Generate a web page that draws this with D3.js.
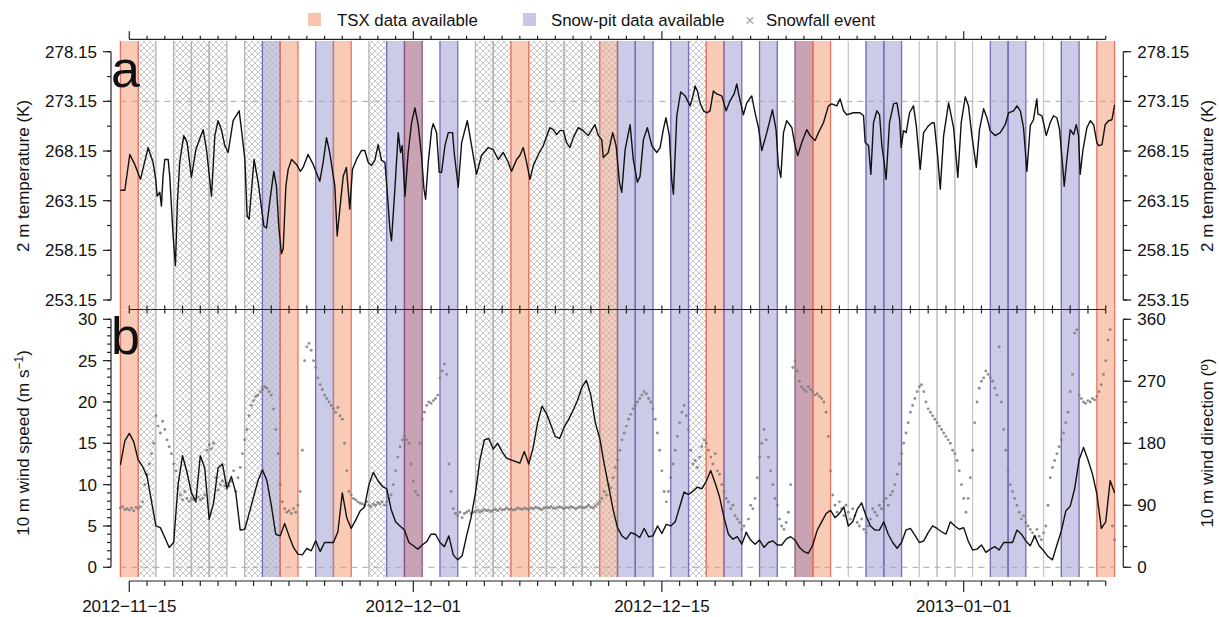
<!DOCTYPE html>
<html><head><meta charset="utf-8">
<script src="https://cdn.jsdelivr.net/npm/d3@7"></script>
<style>
body{margin:0;background:#fff}
text{font-family:"Liberation Sans",Arial,Helvetica,sans-serif;fill:#111}
</style>
</head><body>
<svg id="chart" width="1219" height="617"></svg>
<script>
// ---------------- DATA ----------------
const tsxDays   = ["2012-11-15","2012-11-24","2012-11-27","2012-12-01","2012-12-07","2012-12-12","2012-12-18","2012-12-23","2012-12-24","2013-01-09"];
const pitDays   = ["2012-11-23","2012-11-26","2012-11-30","2012-12-01","2012-12-03","2012-12-13","2012-12-14","2012-12-16","2012-12-19","2012-12-21","2012-12-23","2012-12-27","2012-12-28","2013-01-03","2013-01-04","2013-01-07"];
const snowDays  = ["2012-11-16","2012-11-18","2012-11-19","2012-11-20","2012-11-22","2012-11-23","2012-11-29","2012-12-05","2012-12-06","2012-12-08","2012-12-09","2012-12-10","2012-12-11","2012-12-12","2012-12-17"];
const lightSnowDays = ["2012-12-26","2012-12-30","2012-12-31","2013-01-01","2013-01-06"];

const dateTicks = ["2012-11-15","2012-12-01","2012-12-15","2013-01-01"];
const tempTicks = [253.15,258.15,263.15,268.15,273.15,278.15];
const speedTicks = [0,5,10,15,20,25,30];
const dirTicks = [0,90,180,270,360];

// 2 m temperature: [days since 2012-11-15 00:00 UTC, K]
const temperature = [
[-0.5,264.2],[-0.25,264.2],[0.03,267.8],[0.31,266.8],[0.63,265.3],[1.06,268.5],[1.34,267.0],[1.49,265.3],[1.57,263.6],[1.72,264.0],[1.81,262.6],[1.90,265.6],[2.00,267.3],[2.19,267.3],[2.28,265.6],[2.47,259.6],[2.60,256.6],[2.71,263.0],[2.84,267.0],[3.07,269.7],[3.26,269.0],[3.50,265.5],[3.75,268.3],[4.16,270.3],[4.35,268.3],[4.63,263.6],[4.82,269.7],[5.00,271.2],[5.19,270.3],[5.38,268.7],[5.57,268.0],[5.85,271.2],[6.19,272.2],[6.32,270.3],[6.51,267.3],[6.64,261.6],[6.75,261.3],[7.03,267.3],[7.26,265.0],[7.58,260.6],[7.73,260.4],[7.91,263.0],[8.14,266.1],[8.29,264.6],[8.42,260.6],[8.57,257.8],[8.67,258.3],[8.82,264.6],[8.95,266.3],[9.14,267.3],[9.42,266.8],[9.64,266.1],[9.79,266.5],[10.07,267.8],[10.36,266.8],[10.73,265.1],[10.92,267.0],[11.11,269.5],[11.29,268.0],[11.45,266.1],[11.58,264.6],[11.71,259.6],[11.86,262.3],[12.05,265.6],[12.23,266.5],[12.42,262.3],[12.57,266.3],[12.80,267.3],[13.08,268.2],
[13.27,268.2],[13.46,267.0],[13.65,266.7],[13.83,267.2],[14.02,268.8],[14.21,267.2],[14.40,267.0],[14.49,265.0],[14.68,260.3],[14.77,259.1],[14.96,264.3],[15.15,270.0],[15.28,268.0],[15.37,268.7],[15.53,263.6],[15.71,268.0],[15.90,271.0],[16.09,272.5],[16.28,270.7],[16.46,267.7],[16.60,264.3],[16.69,263.3],[16.84,267.0],[17.03,270.3],[17.12,270.9],[17.31,270.0],[17.46,266.0],[17.59,266.0],[17.78,268.7],[17.97,270.0],[18.21,270.0],[18.30,268.0],[18.53,264.5],[18.72,269.0],[19.04,271.2],[19.28,268.7],[19.56,265.8],[19.84,267.7],[20.22,268.5],[20.50,268.3],[20.78,267.3],[21.07,268.0],[21.35,267.0],[21.53,266.1],[21.82,267.3],[22.00,267.7],[22.19,268.5],[22.38,267.0],[22.57,265.3],[22.76,266.7],[23.04,267.8],[23.32,268.7],[23.69,270.5],[23.88,270.3],[24.07,269.8],[24.26,270.2],[24.45,270.2],[24.63,269.0],[24.82,268.5],[25.01,269.5],[25.29,270.5],[25.57,270.2],[25.85,269.7],[26.23,270.8],[26.42,269.7],[26.61,269.3],[26.70,267.5],[26.98,268.0],
[27.23,270.0],[27.42,268.7],[27.61,265.0],[27.74,264.0],[27.93,268.3],[28.21,270.8],[28.39,267.3],[28.62,265.0],[28.77,265.6],[28.96,269.3],[29.18,270.5],[29.43,268.7],[29.71,268.0],[29.90,268.5],[30.08,270.3],[30.23,271.5],[30.42,269.7],[30.55,265.3],[30.65,263.8],[30.84,271.7],[31.06,274.1],[31.31,273.7],[31.59,272.7],[31.78,273.9],[31.87,274.7],[32.00,274.2],[32.15,273.0],[32.34,272.2],[32.53,272.0],[32.71,272.2],[32.90,274.2],[33.09,273.9],[33.37,273.7],[33.62,272.2],[33.84,273.2],[34.07,273.9],[34.22,274.9],[34.31,274.0],[34.59,271.8],[34.78,273.0],[35.06,273.7],[35.25,272.0],[35.44,270.5],[35.63,268.2],[35.91,270.0],[36.23,272.3],[36.43,270.3],[36.56,266.7],[36.70,265.5],[36.85,270.0],[37.03,271.2],[37.32,270.5],[37.50,268.7],[37.65,267.7],[37.88,269.0],[38.16,270.3],[38.35,269.7],[38.63,269.2],[38.82,270.0],[39.10,271.0],[39.38,272.7],[39.57,272.9],[39.85,272.7],[40.04,273.4],[40.23,272.2],[40.41,271.8],[40.79,272.0],[41.16,272.0],
[41.36,271.7],[41.45,269.0],[41.64,268.7],[41.77,265.8],[41.92,271.0],[42.11,272.2],[42.26,271.8],[42.39,268.7],[42.52,267.0],[42.63,265.3],[42.82,271.0],[43.05,272.9],[43.24,273.0],[43.39,271.3],[43.48,268.5],[43.61,270.2],[43.76,270.0],[43.95,272.0],[44.17,272.7],[44.33,270.7],[44.55,266.3],[44.74,270.0],[45.02,270.7],[45.21,271.0],[45.34,271.0],[45.53,267.7],[45.68,264.3],[45.87,269.7],[46.15,273.0],[46.43,270.5],[46.67,265.5],[46.86,271.0],[47.09,273.6],[47.27,272.7],[47.46,269.7],[47.71,266.5],[47.89,270.3],[48.12,272.4],[48.31,271.5],[48.49,270.2],[48.78,269.7],[49.06,270.0],[49.34,270.8],[49.53,272.0],[49.81,272.2],[50.00,272.7],[50.19,272.2],[50.37,270.5],[50.56,266.1],[50.75,270.7],[50.93,271.3],[51.12,273.4],[51.18,271.9],[51.41,271.7],[51.65,269.7],[51.87,271.0],[52.06,271.7],[52.25,271.5],[52.40,270.3],[52.59,266.3],[52.66,264.6],[52.81,267.3],[53.00,270.3],[53.19,269.8],[53.34,270.8],[53.47,269.7],[53.56,265.8],[53.72,268.3],[53.94,270.5],[54.13,271.2],[54.32,270.8],[54.50,269.0],[54.60,268.7],[54.79,268.8],[54.97,270.8],[55.16,271.2],[55.35,271.3],[55.50,272.8]
];

// 10 m wind speed, every 6 h starting 2012-11-14 12:00 UTC (m/s)
const windStart = "2012-11-14T12:00:00Z";
const speedStepHours = 6;
const windSpeed = [
12.4,15.3,16.2,15.2,13.0,12.2,11.0,8.0,5.0,4.8,3.6,2.4,3.0,10.0,13.5,11.5,9.0,8.0,13.5,12.0,
5.8,7.8,12.0,12.5,9.5,11.0,9.0,4.5,4.6,6.5,8.5,10.5,11.8,10.5,7.5,4.0,3.8,5.3,3.8,2.4,
1.6,1.5,2.3,2.0,3.2,1.9,3.0,3.0,3.0,4.3,9.0,6.0,4.7,5.7,6.8,7.3,10.0,11.5,10.5,9.8,
9.5,7.0,5.5,5.0,4.5,3.0,2.6,2.2,2.7,3.1,4.0,4.0,3.0,2.5,3.8,1.5,0.9,1.4,3.8,6.0,
9.0,13.0,15.4,15.6,14.3,15.0,14.0,13.2,13.0,12.8,12.6,14.0,12.5,14.5,17.5,19.5,18.6,17.2,15.8,15.6,
17.0,17.9,19.0,20.2,21.8,22.6,20.8,17.5,15.6,12.5,9.8,7.0,4.8,3.8,3.4,4.2,4.0,3.6,4.7,3.7,
3.8,5.0,4.1,5.2,5.0,5.5,7.3,9.1,8.8,9.2,9.7,9.5,10.4,11.7,10.2,8.5,6.0,4.0,3.4,3.7,
2.8,4.2,3.3,2.8,3.3,2.4,3.0,3.2,2.7,2.7,3.4,3.7,3.3,2.4,1.9,1.7,2.7,4.5,5.5,6.5,
6.9,6.0,6.5,7.3,5.0,5.5,7.0,7.8,6.2,5.0,4.5,4.5,5.5,4.0,3.0,2.3,3.0,4.5,4.7,3.9,
3.0,3.2,4.2,5.0,4.7,4.3,4.0,5.5,5.0,4.6,4.8,3.2,2.1,2.2,2.7,1.8,2.2,2.5,2.1,3.0,
3.0,3.0,4.5,4.0,3.2,2.6,3.8,2.6,2.0,1.3,0.9,2.7,4.4,6.8,7.4,9.5,13.0,14.5,13.0,11.3,
8.9,4.7,5.5,10.5,9.0
];
// 10 m wind direction, every 3 h starting 2012-11-14 12:00 UTC (degrees)
const dirStepHours = 3;
const windDir = [
86,88,84,85,83,86,82,87, 85,88,95,120,135,150,165,180,
220,205,195,212,200,185,175,165, 150,140,115,105,98,110,100,96,
100,98,95,102,98,100,105,170, 178,172,180,130,112,120,125,118,
122,118,125,140,110,130,145,165, 185,200,220,235,242,248,250,255,
258,262,260,255,250,230,200,165, 120,95,85,80,82,78,85,80,
90,110,170,300,320,325,315,300, 290,275,265,258,250,245,240,235,
230,225,232,220,215,180,140,110, 105,100,98,95,93,92,90,95,
90,88,92,90,94,92,95,90, 95,100,105,120,140,160,175,185,
190,185,180,150,125,110,105,180, 215,225,235,240,238,242,245,250,
275,285,295,280,150,110,85,78, 75,80,72,78,80,82,78,80,
81,83,80,82,84,82,83,81, 83,84,82,85,83,84,86,84,
85,83,84,86,85,84,86,85, 84,86,85,87,86,85,84,86,
87,86,88,86,85,87,88,86, 85,87,86,88,87,85,86,88,
87,86,88,90,87,86,89,92, 95,100,110,105,120,115,130,145,
155,170,185,195,205,215,222,230, 235,240,245,250,255,252,245,240,
230,215,195,170,140,110,95,110, 130,150,170,190,210,225,235,220,
200,170,150,155,145,160,175,185, 180,170,160,150,165,140,135,120,
110,100,95,85,90,75,70,65, 55,60,50,70,90,85,100,130,
160,180,200,185,160,140,120,100, 90,70,60,55,65,80,120,290,
300,285,270,262,258,255,262,258, 255,250,252,248,245,240,225,190,
140,105,90,80,95,85,75,90, 80,70,85,75,65,60,70,55,
50,60,70,85,80,75,90,85, 95,100,90,105,110,120,135,150,
165,180,195,210,225,235,245,255, 262,265,255,240,230,225,220,215,
210,205,200,195,190,185,180,170, 165,155,140,120,100,80,100,130,
170,210,240,260,270,275,285,280, 275,270,260,250,320,240,200,170,
140,120,110,100,90,80,70,75, 65,60,55,50,45,55,45,40,
50,60,90,130,145,155,165,175, 185,195,210,225,255,280,340,345,
250,245,240,238,242,240,245,243, 248,255,265,280,300,330,345,60,40
];

// ---------------- DRAWING ----------------
const svg = d3.select("#chart");
const DAY = 864e5;
const parseDay = s => new Date(s + "T00:00:00Z");
const T0 = Date.UTC(2012,10,15);

const x = d3.scaleUtc()
  .domain([new Date(Date.UTC(2012,10,14,12)), new Date(Date.UTC(2013,0,9,12))])
  .range([120.4, 1114.6]);
const yA = d3.scaleLinear().domain([253.15, 278.15]).range([300, 51.7]);
const yB = d3.scaleLinear().domain([0, 30]).range([567.3, 319.3]);
const yD = d3.scaleLinear().domain([0, 360]).range([567.3, 319.3]);

const panelA = {top: 41, bottom: 309.5};
const panelB = {top: 309.5, bottom: 577};

const defs = svg.append("defs");
const pat = defs.append("pattern").attr("id","hatch").attr("patternUnits","userSpaceOnUse")
  .attr("width",6).attr("height",6);
pat.append("path").attr("d","M0,0L6,6M6,0L0,6M-1,5L1,7M5,-1L7,1M-1,1L1,-1M5,7L7,5")
  .attr("stroke","#b8b8b8").attr("stroke-width",0.75).attr("fill","none");

const allDays = Array.from(new Set([...tsxDays, ...pitDays, ...snowDays, ...lightSnowDays])).sort();
const dayInfo = allDays.map(d => ({
  d, t: parseDay(d),
  tsx: tsxDays.includes(d), pit: pitDays.includes(d),
  snow: snowDays.includes(d), light: lightSnowDays.includes(d)
}));
function fillOf(o){
  if (o.tsx && o.pit) return "#c9a2b3";
  if (o.tsx) return "#f9cbb6";
  if (o.pit) return "#cbcbe7";
  return "none";
}
function edgeOf(o){
  if (o.tsx && o.pit) return "#8c5a86";
  if (o.tsx) return "#e8735d";
  if (o.pit) return "#6f70b9";
  return "#b4b4b4";
}
const x0 = o => x(new Date(+o.t - DAY/2));
const x1 = o => x(new Date(+o.t + DAY/2));

function edges(g, list, p, colorFn){
  list.forEach(o => {
    [x0(o), x1(o)].forEach(xx => g.append("line").attr("x1",xx).attr("x2",xx)
      .attr("y1",p.top).attr("y2",p.bottom).attr("stroke",colorFn(o)).attr("stroke-width",1.3));
  });
}

[panelA, panelB].forEach(p => {
  const g = svg.append("g");
  edges(g, dayInfo.filter(o => o.light), p, () => "#c6c6c6");
  const hatchOnly = dayInfo.filter(o => o.snow && !o.tsx && !o.pit);
  g.selectAll(".hf").data(hatchOnly).join("rect")
    .attr("x", x0).attr("width", o => x1(o)-x0(o))
    .attr("y", p.top).attr("height", p.bottom - p.top)
    .attr("fill","url(#hatch)");
  edges(g, hatchOnly, p, () => "#b4b4b4");
  const col = dayInfo.filter(o => o.tsx || o.pit);
  g.selectAll(".cf").data(col).join("rect")
    .attr("x", x0).attr("width", o => x1(o)-x0(o))
    .attr("y", p.top).attr("height", p.bottom - p.top)
    .attr("fill", fillOf);
  g.selectAll(".ch").data(col.filter(o => o.snow)).join("rect")
    .attr("x", x0).attr("width", o => x1(o)-x0(o))
    .attr("y", p.top).attr("height", p.bottom - p.top)
    .attr("fill","url(#hatch)");
  edges(g, col, p, edgeOf);
});

[yA(273.15), yB(0)].forEach(yy =>
  svg.append("line").attr("x1",120.4).attr("x2",1114.6).attr("y1",yy).attr("y2",yy)
    .attr("stroke","#a8a8a8").attr("stroke-width",1).attr("stroke-dasharray","6,5"));

// temperature line
const tDate = t => new Date(T0 + t*DAY);
svg.append("path").datum(temperature)
  .attr("d", d3.line().x(d => x(tDate(d[0]))).y(d => yA(d[1])))
  .attr("fill","none").attr("stroke","#111").attr("stroke-width",1.4).attr("stroke-linejoin","round");

// wind
const wStart = new Date(windStart);
const tAt = (i, step) => new Date(+wStart + i*step*3600e3);
svg.append("g").selectAll("circle").data(windDir).join("circle")
  .attr("cx",(d,i)=>x(tAt(i, dirStepHours))).attr("cy",d=>yD(d)).attr("r",1.45)
  .attr("fill","#7d7d7d").attr("fill-opacity",0.85);
svg.append("path").datum(windSpeed)
  .attr("d", d3.line().x((d,i)=>x(tAt(i, speedStepHours))).y(d=>yB(d)))
  .attr("fill","none").attr("stroke","#111").attr("stroke-width",1.4).attr("stroke-linejoin","round");

// ---------- axes ----------
const dayTicks = d3.utcDay.range(parseDay("2012-11-15"), new Date(Date.UTC(2013,0,9,1)));
const majorDates = dateTicks.map(parseDay);
const xFirst = x(dayTicks[0]), xLast = x(dayTicks[dayTicks.length-1]);
const axStroke = "#222";

function hAxis(y, up, down, majUp, majDown){
  const g = svg.append("g");
  g.append("line").attr("x1",xFirst).attr("x2",xLast).attr("y1",y).attr("y2",y).attr("stroke",axStroke).attr("stroke-width",1.2);
  g.selectAll("line.t").data(dayTicks).join("line")
    .attr("x1",d=>x(d)).attr("x2",d=>x(d))
    .attr("y1",d=> y - (majorDates.some(m=>+m===+d)? majUp: up))
    .attr("y2",d=> y + (majorDates.some(m=>+m===+d)? majDown: down))
    .attr("stroke",axStroke).attr("stroke-width",1.2);
}
hAxis(39.3, 3.5, 0, 8, 0);
hAxis(309.5, 4, 4, 4, 4);
hAxis(581, 0, 5, 0, 11);

svg.append("g").selectAll("text").data(majorDates).join("text")
  .attr("x",d=>x(d)).attr("y",612).attr("text-anchor","middle").attr("font-size",17)
  .text(d=>d3.utcFormat("%Y\u2212%m\u2212%d")(d));

function vAxis(xp, side, scale, majors, minorStep, fmt){
  const g = svg.append("g");
  const dom = scale.domain();
  g.append("line").attr("x1",xp).attr("x2",xp).attr("y1",scale(dom[0])).attr("y2",scale(dom[1]))
    .attr("stroke",axStroke).attr("stroke-width",1.2);
  const minors = d3.range(dom[0], dom[1]+1e-6, minorStep);
  g.selectAll("line.m").data(minors).join("line")
    .attr("x1",xp).attr("x2",xp + side*4).attr("y1",d=>scale(d)).attr("y2",d=>scale(d))
    .attr("stroke",axStroke).attr("stroke-width",1.2);
  g.selectAll("line.M").data(majors).join("line")
    .attr("x1",xp).attr("x2",xp + side*8).attr("y1",d=>scale(d)).attr("y2",d=>scale(d))
    .attr("stroke",axStroke).attr("stroke-width",1.2);
  g.selectAll("text").data(majors).join("text")
    .attr("x", xp + side*14).attr("y",d=>scale(d)).attr("dy","0.36em")
    .attr("text-anchor", side<0 ? "end":"start").attr("font-size",17)
    .text(fmt);
}
vAxis(111, -1, yA, tempTicks, 2.5, d3.format(".2f"));
vAxis(1123.3, 1, yA, tempTicks, 2.5, d3.format(".2f"));
vAxis(111, -1, yB, speedTicks, 1, d3.format("d"));
vAxis(1123.3, 1, yD, dirTicks, 30, d3.format("d"));

function vTitle(xp, yc, build){
  const t = svg.append("text").attr("transform",`translate(${xp},${yc}) rotate(-90)`)
    .attr("text-anchor","middle").attr("font-size",17);
  build(t);
}
vTitle(29, 176, t => t.text("2 m temperature (K)"));
vTitle(1213, 176, t => t.text("2 m temperature (K)"));
vTitle(29, 443, t => { t.append("tspan").text("10 m  wind speed (m s");
  t.append("tspan").attr("dy",-6).attr("font-size",12).text("\u22121");
  t.append("tspan").attr("dy",6).text(")"); });
vTitle(1213, 443, t => { t.append("tspan").text("10 m  wind direction (");
  t.append("tspan").attr("dy",-5).attr("font-size",12).text("o");
  t.append("tspan").attr("dy",5).text(")"); });

svg.append("text").attr("x",111).attr("y",87).attr("font-size",52).text("a");
svg.append("text").attr("x",111).attr("y",354).attr("font-size",52).text("b");

// legend
const lg = svg.append("g").attr("font-size",16.8);
lg.append("rect").attr("x",308).attr("y",13).attr("width",13).attr("height",13).attr("fill","#f9c4ae");
lg.append("text").attr("x",337).attr("y",26).text("TSX data available");
lg.append("rect").attr("x",523).attr("y",13).attr("width",13).attr("height",13).attr("fill","#c8c8e6");
lg.append("text").attr("x",551).attr("y",26).text("Snow-pit data available");
lg.append("text").attr("x",750).attr("y",26).attr("text-anchor","middle").style("fill","#aaa").text("\u00d7");
lg.append("text").attr("x",766).attr("y",26).text("Snowfall event");
</script>
</body></html>
